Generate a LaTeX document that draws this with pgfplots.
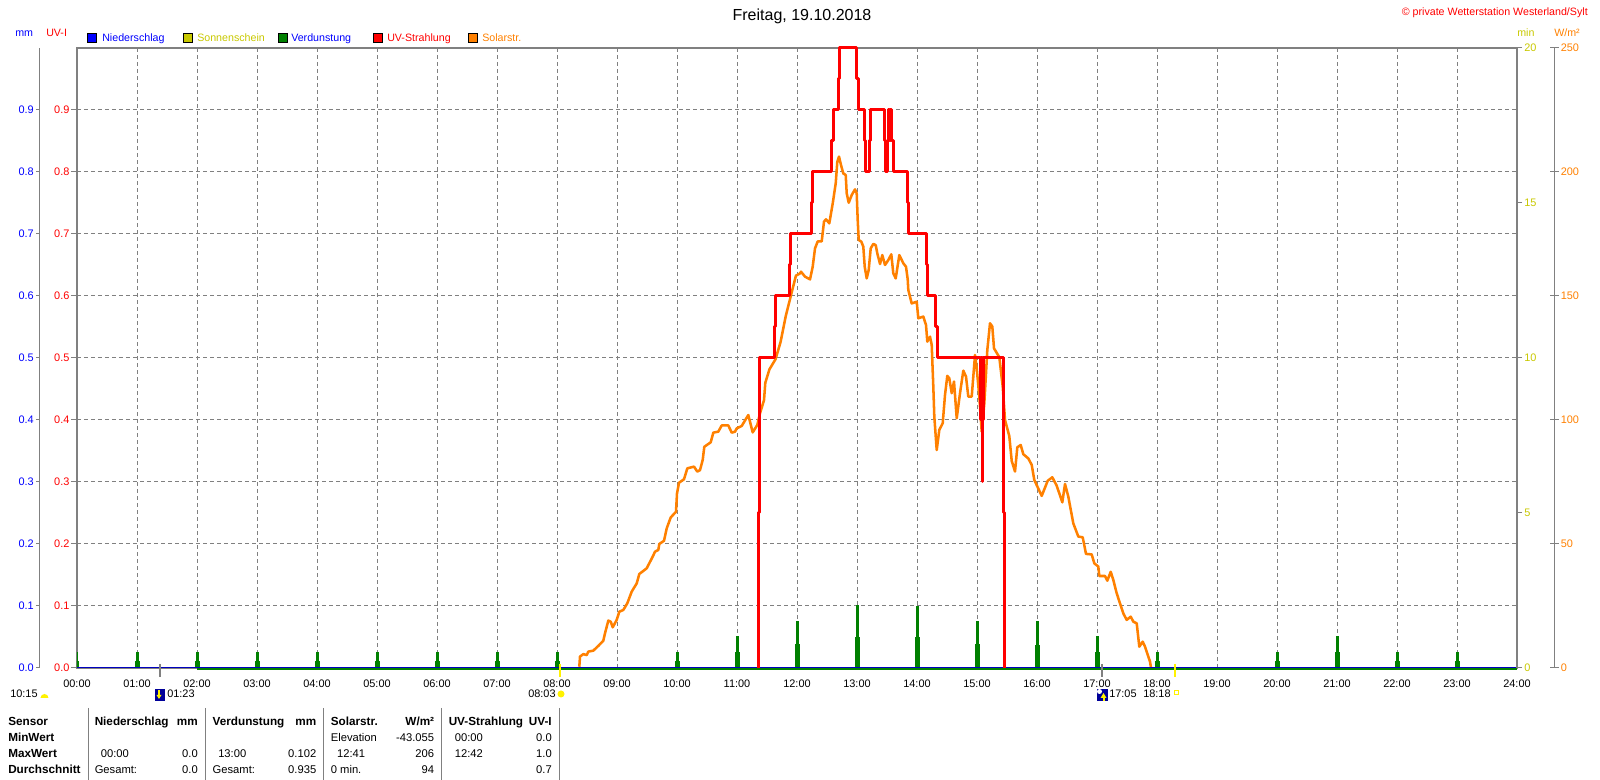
\documentclass[border=0pt]{standalone}
\usepackage{pgfplots}
\usepackage{pgfplotstable}
\usepackage{fontspec}
\setmainfont{Liberation Sans}
\pgfplotsset{compat=1.18}
\definecolor{cBlue}{HTML}{0000FF}
\definecolor{cOlive}{HTML}{C8C800}
\definecolor{cGreen}{HTML}{008000}
\definecolor{cRed}{HTML}{FF0000}
\definecolor{cOrange}{HTML}{FF8000}
\definecolor{cGray}{HTML}{808080}
\newcommand\tickfont{\fontsize{8.2}{9}\selectfont}
\newcommand\legfont{\fontsize{8}{9}\selectfont}
\newcommand\tabfont{\fontsize{8.4}{9}\selectfont}
\newcommand\tabbold{\fontsize{8.8}{9}\selectfont\bfseries}
% x in minutes of the day, y in W/m2
\pgfplotstableread{
m w
502.3 0.5
503 4.6
506.3 5.6
509.7 5.2
511.3 6.6
516.3 7.0
521.3 8.9
526.3 11.0
528 14.0
531.3 19.1
533.7 18.7
535.7 16.4
539.7 19.4
542.3 22.7
546.3 23.4
550.3 26.1
554.7 30.8
559.7 34.1
562.3 37.9
569.7 40.2
575.7 44.9
578 46.9
581.3 47.6
582.3 50
587 51.3
589.7 56.3
593.7 60.7
599 63
600 70.4
602 74.7
607 76.1
610.3 80.5
617 81.2
620.3 79.2
623 79.8
625.7 83.9
627.3 89.2
633.7 91
636.3 94.9
641.3 95.3
644.7 97.8
651.3 97.8
654.7 94.9
658 95.3
659.7 96.6
664.7 97.6
671.3 102
675.7 95
680.3 98
683 102.7
687 108
688.3 115
692.4 120.4
698.5 124.5
703.6 131.5
708.7 141.8
713.8 150
718.9 158.2
723 159.1
724 159.8
728 157.8
733 156.7
735.7 161.8
738 169.2
740.7 172
744.7 172
747 180
749 180.9
752.3 179.3
755.7 187.3
758.7 195.4
760.3 204.1
762 206.2
764 202.8
766.3 199.4
768.7 198.8
769.7 191.4
771.7 187.6
774.7 190.7
778 193
779.7 191.4
780.7 180.6
781.7 172.6
784.3 171.9
786.3 169.9
787.7 161.8
789.7 157.1
791.7 160.5
793.7 169.2
796.3 171
798.7 170.5
800.3 167.2
803 162.9
805.3 166.5
808 162.5
811.3 164.5
814.3 166.8
816.3 159.1
818.7 157.1
822.3 166.5
826.3 163.2
829 161.8
830.7 156.7
831.3 152.4
834.7 147
839.7 147.7
841.3 141
846.3 141.7
849 138.3
850.3 131.6
853 133.6
854.7 130.3
856.3 113.5
857.3 101.4
859.7 87.9
862.3 96
865.7 98.7
868 110.1
870.3 117.8
872.3 116.8
874.7 110.8
877 115.5
879.7 100.7
883 110.8
886.3 119.9
889 117.5
891.3 109.4
894.7 109.4
898 126.2
899.7 120.9
902.3 109.4
904.7 95.3
907.3 106.7
910.3 128.2
913 139
915.3 137.7
917 128.9
922.3 125.3
925.7 113.5
928 100
932.3 93.5
934.7 83.5
938 79.2
940.3 89
943.7 89.9
946.3 86.2
951.3 84.5
954.7 81.9
957.3 75.8
964.7 69.4
970.7 75.5
975.3 76.9
979.7 73.5
985.3 66.8
988 74.2
991.3 69.1
996.3 58.3
1001.3 53
1005.7 52.7
1009 46
1014.7 45.8
1017.3 42.2
1021.3 40.9
1022.3 37.1
1028 37.1
1030.3 35.2
1033.7 38.8
1036.3 35.5
1039.7 30.1
1046.3 22
1049.7 19.4
1053.7 20.7
1056.3 18.7
1059.7 18
1062.3 8.6
1065.7 10.6
1068 8.6
1073 2.6
1074 0
}\solartable
% UV index steps
\pgfplotstableread{
m uv
681 0
681 .25
682 .25
682 .5
697 .5
697 .55
698 .55
698 .6
712 .6
712 .65
713 .65
713 .7
734.7 .7
734.7 .75
735.3 .75
735.3 .8
754.7 .8
754.7 .85
756 .85
756 .9
761.3 .9
761.3 .95
762.3 .95
762.3 1
779.7 1
779.7 .95
781 .95
781 .9
787.3 .9
787.3 .85
788.7 .85
788.7 .8
792 .8
792 .85
793.7 .85
793.7 .9
807.3 .9
807.3 .85
808.7 .85
808.7 .8
810 .8
810 .85
811 .85
811 .9
812 .9
812 .85
813 .85
813 .9
814 .9
814 .85
816 .85
816 .8
830.7 .8
830.7 .75
831.7 .75
831.7 .7
849.7 .7
849.7 .65
850.3 .65
850.3 .6
858.3 .6
858.3 .55
860 .55
860 .5
903.7 .5
903.7 .4
904.5 .4
904.5 .5
905 .5
905 .3
905.5 .3
905.5 .4
906.5 .4
906.5 .5
926.3 .5
926.3 .25
927.3 .25
927.3 0
}\uvtable
% evaporation spikes
\pgfplotstableread{
m top mid
0 .025 .012
60 .025 .012
120 .025 .012
180 .025 .012
240 .025 .012
300 .025 .012
360 .025 .012
420 .025 .012
480 .025 .012
600 .025 .012
660 .051 .025
720 .076 .038
780 .102 .050
840 .100 .050
900 .076 .038
960 .075 .037
1020 .051 .025
1080 .025 .012
1200 .025 .012
1260 .051 .025
1320 .025 .012
1380 .025 .012
}\spiketable
\begin{document}
\begin{tikzpicture}
\path[use as bounding box] (-57.75pt,-84pt) rectangle (1142.25pt,501pt);
% main axis
\begin{axis}[at={(0,0)},anchor=south west,scale only axis,width=1080pt,height=465pt,
  xmin=0,xmax=1440,ymin=0,ymax=1,
  xtick={0,60,...,1440},
  xticklabels={00:00,01:00,02:00,03:00,04:00,05:00,06:00,07:00,08:00,09:00,10:00,11:00,12:00,13:00,14:00,15:00,16:00,17:00,18:00,19:00,20:00,21:00,22:00,23:00,24:00},
  ytick={0,0.1,0.2,0.3,0.4,0.5,0.6,0.7,0.8,0.9},
  ytick pos=left,xtick pos=bottom,
  yticklabel style={/pgf/number format/fixed,/pgf/number format/fixed zerofill,/pgf/number format/precision=1,/pgf/number format/assume math mode=true,text=cRed,font=\tickfont,inner sep=0pt},
  xticklabel style={font=\tickfont,inner sep=0pt,text=black,yshift=-3pt},
  tick align=outside,major tick length=4.5pt,yticklabel shift=1pt,xticklabel shift=1pt,
  x tick style={draw=none},
  y tick style={cGray,line width=.75pt},
  grid=major,
  major grid style={cGray,line width=.75pt,dash pattern=on 3pt off 2.25pt},
  axis line style={cGray,line width=1.5pt},
  scaled y ticks=false]
\addplot[ycomb,cGreen,line width=2.25pt,mark=none] table[x=m,y=top]{\spiketable};
\addplot[ycomb,cGreen,line width=3.75pt,mark=none] table[x=m,y=mid]{\spiketable};
\end{axis}
% solar
\begin{axis}[at={(0,0)},anchor=south west,scale only axis,width=1080pt,height=465pt,
  xmin=0,xmax=1440,ymin=0,ymax=250,hide axis]
\addplot[cOrange,line width=1.9pt,line join=round,mark=none] table[x=m,y=w]{\solartable};
\end{axis}
% UV index, zero lines and rise/set ticks
\begin{axis}[at={(0,0)},anchor=south west,scale only axis,width=1080pt,height=465pt,
  xmin=0,xmax=1440,ymin=0,ymax=1,hide axis,clip=false]
\addplot[cGreen,line width=1.5pt,mark=none] coordinates {(120,-0.0016)(1440,-0.0016)};
\addplot[cBlue!75!black,line width=.9pt,mark=none] coordinates {(0,0.0004)(1440,0.0004)};
\addplot[cRed,line width=2.25pt,line join=round,mark=none] table[x=m,y=uv]{\uvtable};
\addplot[cGray,line width=1.5pt,mark=none] coordinates {(83,0.0065)(83,-0.0145)};
\addplot[cGray,line width=1.5pt,mark=none] coordinates {(1025,0.0065)(1025,-0.0145)};
\addplot[yellow,line width=1.5pt,mark=none] coordinates {(483,0.0065)(483,-0.0145)};
\addplot[yellow,line width=1.5pt,mark=none] coordinates {(1098,0.0065)(1098,-0.0145)};
\end{axis}
% right axis: min
\begin{axis}[at={(0,0)},anchor=south west,scale only axis,width=1080pt,height=465pt,
  xmin=0,xmax=1,ymin=0,ymax=20,axis x line=none,axis y line*=right,
  ytick={0,5,10,15,20},tick align=outside,major tick length=3.75pt,yticklabel shift=1.5pt,
  y tick style={cGray,line width=.75pt},
  y axis line style={cGray,line width=1.5pt},
  yticklabel style={/pgf/number format/assume math mode=true,text=cOlive,font=\tickfont,inner sep=0pt}]
\end{axis}
% far right axis: W/m2
\begin{axis}[at={(1107pt,0)},anchor=south west,scale only axis,width=.75pt,height=465pt,
  xmin=0,xmax=1,ymin=0,ymax=250,axis x line=none,axis y line*=right,
  ytick={0,50,100,150,200,250},tick align=center,major tick length=6.75pt,yticklabel shift=1.5pt,
  y tick style={cGray,line width=.75pt},
  y axis line style={cGray,line width=.75pt},
  yticklabel style={/pgf/number format/assume math mode=true,text=cOrange,font=\tickfont,inner sep=0pt}]
\end{axis}
% far left axis: mm
\begin{axis}[at={(-27.75pt,0)},anchor=south west,scale only axis,width=.75pt,height=465pt,
  xmin=0,xmax=1,ymin=0,ymax=1,axis x line=none,axis y line*=left,
  ytick={0,0.1,0.2,0.3,0.4,0.5,0.6,0.7,0.8,0.9},tick align=outside,major tick length=3pt,yticklabel shift=1.5pt,
  y tick style={cGray,line width=.75pt},
  y axis line style={cGray,line width=.75pt},
  yticklabel style={/pgf/number format/fixed,/pgf/number format/fixed zerofill,/pgf/number format/precision=1,/pgf/number format/assume math mode=true,text=cBlue,font=\tickfont,inner sep=0pt}]
\end{axis}
% annotations, in the picture's own pixel coordinates
\begin{scope}[x=.75pt,y=-.75pt,shift={(-57.75pt,501pt)},
  L/.style={anchor=base west,inner sep=0pt},
  R/.style={anchor=base east,inner sep=0pt},
  sw/.style={draw=black,line width=.75pt}]
\node[anchor=base,inner sep=0pt,font=\fontsize{12}{13}\selectfont] at (802,21) {Freitag, 19.10.2018};
\node[R,font=\legfont,text=cRed] at (1588,16) {© private Wetterstation Westerland/Sylt};
\node[L,font=\legfont,text=cBlue] at (15,37) {mm};
\node[L,font=\legfont,text=cRed] at (46,37) {UV-I};
\node[L,font=\legfont,text=cOlive] at (1517,37) {min};
\node[L,font=\legfont,text=cOrange] at (1554,37) {W/m²};
\fill[cBlue,sw] (88,33.5) rectangle (97,42.5);
\node[L,font=\legfont,text=cBlue] at (102,42) {Niederschlag};
\fill[cOlive,sw] (183,33.5) rectangle (192,42.5);
\node[L,font=\legfont,text=cOlive] at (197,42) {Sonnenschein};
\fill[cGreen,sw] (278,33.5) rectangle (287,42.5);
\node[L,font=\legfont,text=cBlue] at (291,42) {Verdunstung};
\fill[cRed,sw] (373,33.5) rectangle (382,42.5);
\node[L,font=\legfont,text=cRed] at (387,42) {UV-Strahlung};
\fill[cOrange,sw] (468,33.5) rectangle (477,42.5);
\node[L,font=\legfont,text=cOrange] at (482,42) {Solarstr.};
% rise and set row
\node[L,font=\tickfont] at (10,698) {10:15};
\fill[yellow] (40.5,698) arc[start angle=180,end angle=360,radius=4] -- cycle;
\fill[blue!60!black] (155,689) rectangle (165,701);
\fill[yellow] (158,690) rectangle (160,696);
\fill[yellow] (156.5,695) -- (161.5,695) -- (159,699) -- cycle;
\node[L,font=\tickfont] at (167,698) {01:23};
\node[L,font=\tickfont] at (528,698) {08:03};
\fill[yellow] (561,694) circle[radius=3.5];
\fill[blue!60!black] (1097,689) rectangle (1108,701);
\fill[white] (1099.5,691.5) circle[radius=2.5];
\fill[yellow] (1103.5,693) -- (1106.5,698) -- (1100.5,698) -- cycle;
\fill[yellow] (1102.5,697) rectangle (1104.5,701);
\node[L,font=\tickfont] at (1109,698) {17:05};
\node[L,font=\tickfont] at (1143,698) {18:18};
\draw[yellow,line width=.75pt] (1174,691) rectangle (1178,695);
% table
\foreach \xx in {89,205.5,323,441,559.5}
  \draw[cGray,line width=.75pt] (\xx,708) -- (\xx,780);
\node[L,font=\tabbold] at (8,726) {Sensor};
\node[L,font=\tabbold] at (8,742) {MinWert};
\node[L,font=\tabbold] at (8,758) {MaxWert};
\node[L,font=\tabbold] at (8,774) {Durchschnitt};
\node[L,font=\tabbold] at (94.5,726) {Niederschlag};
\node[R,font=\tabbold] at (198,726) {mm};
\node[L,font=\tabfont] at (100.6,758) {00:00};
\node[R,font=\tabfont] at (198,758) {0.0};
\node[L,font=\tabfont] at (94.5,774) {Gesamt:};
\node[R,font=\tabfont] at (198,774) {0.0};
\node[L,font=\tabbold] at (212.4,726) {Verdunstung};
\node[R,font=\tabbold] at (316.5,726) {mm};
\node[L,font=\tabfont] at (218,758) {13:00};
\node[R,font=\tabfont] at (316.5,758) {0.102};
\node[L,font=\tabfont] at (212.4,774) {Gesamt:};
\node[R,font=\tabfont] at (316.5,774) {0.935};
\node[L,font=\tabbold] at (330.6,726) {Solarstr.};
\node[R,font=\tabbold] at (434.4,726) {W/m²};
\node[L,font=\tabfont] at (330.6,742) {Elevation};
\node[R,font=\tabfont] at (434.4,742) {-43.055};
\node[L,font=\tabfont] at (336.8,758) {12:41};
\node[R,font=\tabfont] at (434.4,758) {206};
\node[L,font=\tabfont] at (330.6,774) {0 min.};
\node[R,font=\tabfont] at (434.4,774) {94};
\node[L,font=\tabbold] at (448.5,726) {UV-Strahlung};
\node[R,font=\tabbold] at (552,726) {UV-I};
\node[L,font=\tabfont] at (454.6,742) {00:00};
\node[R,font=\tabfont] at (552,742) {0.0};
\node[L,font=\tabfont] at (454.6,758) {12:42};
\node[R,font=\tabfont] at (552,758) {1.0};
\node[R,font=\tabfont] at (552,774) {0.7};
\end{scope}
\end{tikzpicture}
\end{document}
